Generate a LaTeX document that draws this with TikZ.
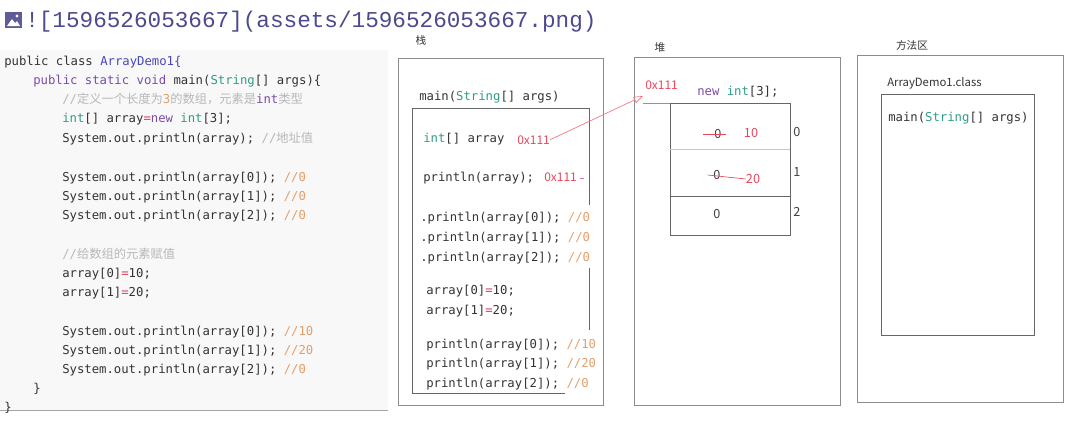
\documentclass[tikz,border=0pt]{standalone}
\usepackage{fontspec}
\setmonofont{DejaVu Sans Mono}
\newfontfamily\cjk{Noto Sans CJK SC}
\newfontfamily\titlefont{Liberation Mono}
\usetikzlibrary{arrows.meta}
\definecolor{ckwc}{HTML}{7B4BA8}
\definecolor{ctyc}{HTML}{2F9C88}
\definecolor{cclsc}{HTML}{4A48B8}
\definecolor{cidc}{HTML}{333333}
\definecolor{ccmc}{HTML}{B8B8B8}
\definecolor{cnumc}{HTML}{E3A06C}
\definecolor{copc}{HTML}{D6405A}
\definecolor{addrc}{HTML}{E8465C}
\definecolor{boxc}{HTML}{8C8C8C}
\definecolor{titlec}{HTML}{4C4A8E}
\definecolor{panelc}{HTML}{F8F8F8}
\newcommand{\ckw}[1]{\textcolor{ckwc}{#1}}
\newcommand{\cty}[1]{\textcolor{ctyc}{#1}}
\newcommand{\ccm}[1]{\textcolor{ccmc}{#1}}
\newcommand{\cnum}[1]{\textcolor{cnumc}{#1}}
\newcommand{\cop}[1]{\textcolor{copc}{#1}}

\begin{document}
\begin{tikzpicture}[x=0.75pt,y=-0.75pt,>=Stealth]
\tikzstyle{code}=[anchor=base west,inner sep=0pt,text=cidc,font=\ttfamily\fontsize{9.2}{11}\selectfont]
\tikzstyle{lbl}=[inner sep=0pt,text=black!80,font=\cjk\fontsize{8}{10}\selectfont]
\tikzstyle{cell}=[inner sep=0pt,text=black!75,font=\cjk\fontsize{9.5}{11}\selectfont]
\tikzstyle{addr}=[anchor=base west,inner sep=0pt,text=addrc,font=\cjk\fontsize{9}{11}\selectfont]
\tikzstyle{area}=[draw=boxc,line width=0.7pt]
\tikzstyle{inbox}=[draw=black!60,line width=0.6pt]
\useasboundingbox (0,0) rectangle (1072,421);

% title line
\fill[titlec!90] (5,12) rectangle (22,28);
\fill[white] (7,26) -- (12,19) -- (15,23) -- (17,21) -- (20,26) -- cycle;
\fill[white] (17,16) circle (1.6);
\node[anchor=base west,inner sep=0pt,text=titlec,font=\titlefont\fontsize{17}{20}\selectfont] (title) at (25,27) {![1596526053667](assets/1596526053667.png)};

% source code
\fill[panelc] (0,50) rectangle (388,410);
\draw[black!35] (0,410) -- (388,410);
\node[code] (l1) at (4,65) {public class \textcolor{cclsc}{ArrayDemo1\{}};
\node[code] (l2) at (33,84) {\ckw{public static void} main(\cty{String}[] args)\{};
\node[code] (l3) at (62,103) {\ccm{//{\cjk 定义一个长度为}}\cnum{3}\ccm{{\cjk 的数组，元素是}}\ckw{int}\ccm{{\cjk 类型}}};
\node[code] (l4) at (62,122) {\cty{int}[] array\cop{=}\ckw{new} \cty{int}[3];};
\node[code] (l5) at (62,142) {System.out.println(array); \ccm{//{\cjk 地址值}}};
\node[code] (l6) at (62,181) {System.out.println(array[0]); \cnum{//0}};
\node[code] (l7) at (62,200) {System.out.println(array[1]); \cnum{//0}};
\node[code] (l8) at (62,219) {System.out.println(array[2]); \cnum{//0}};
\node[code] (l9) at (62,258) {\ccm{//{\cjk 给数组的元素赋值}}};
\node[code] (l10) at (62,277) {array[0]\cop{=}10;};
\node[code] (l11) at (62,296) {array[1]\cop{=}20;};
\node[code] (l12) at (62,335) {System.out.println(array[0]); \cnum{//10}};
\node[code] (l13) at (62,354) {System.out.println(array[1]); \cnum{//20}};
\node[code] (l14) at (62,373) {System.out.println(array[2]); \cnum{//0}};
\node[code] (l15) at (33,392) {\}};
\node[code] (l16) at (4,411) {\}};

% stack
\node[lbl] (stk) at (421,40) {栈};
\draw[area] (398,58) rectangle (603,405);
\node[code] (smain) at (419,100) {main(\cty{String}[] args)};
\draw[inbox] (589,205) -- (589,108) -- (412,108) -- (412,393) -- (565,393);
\draw[inbox] (589,268) -- (589,330);
\node[code] (sarr) at (423,142) {\cty{int}[] array};
\node[addr] (sref) at (517,144) {0x111};
\node[code] (sprint) at (423,181) {println(array);};
\node[addr] (sref2) at (544,181) {0x111};
\node[code] (sp0) at (420,221) {.println(array[0]); \cnum{//0}};
\node[code] (sp1) at (420,241) {.println(array[1]); \cnum{//0}};
\node[code] (sp2) at (420,261) {.println(array[2]); \cnum{//0}};
\node[code] (sa0) at (426,294) {array[0]\cop{=}10;};
\node[code] (sa1) at (426,314) {array[1]\cop{=}20;};
\node[code] (sq0) at (426,348) {println(array[0]); \cnum{//10}};
\node[code] (sq1) at (426,367) {println(array[1]); \cnum{//20}};
\node[code] (sq2) at (426,387) {println(array[2]); \cnum{//0}};

% heap
\node[lbl] (hp) at (660,47) {堆};
\draw[area] (634,57) rectangle (840,405);
\node[addr] (href) at (645,89) {0x111};
\node[code] (hnew) at (697,95) {\ckw{new} \cty{int}[3];};
\draw[inbox] (670,103) rectangle (790,235);
\draw[black!22] (670,149) -- (790,149);
\draw[inbox] (670,196) -- (790,196);
\coordinate (hin) at (643,96);
\coordinate (hul) at (643,103);
\coordinate (hur) at (670,103);
\draw[addrc!80,line width=0.5pt] (hul) -- (hur);
\node[cell] (i0) at (797,132) {0};
\node[cell] (i1) at (797,172) {1};
\node[cell] (i2) at (797,212) {2};
\node[cell] (v0) at (718,134) {0};
\node[cell,text=addrc] (n0) at (751,133) {10};
\node[cell] (v1) at (717,175) {0};
\node[cell,text=addrc] (n1) at (753,179) {20};
\node[cell] (v2) at (717,214) {0};
\draw[addrc,line width=0.5pt] ([xshift=-11pt]v0.center) -- ([xshift=6pt]v0.center);
\draw[addrc,line width=0.5pt] ([xshift=-7pt]v1.center) -- (n1.west);

% reference arrows
\draw[->,addrc!75,line width=0.5pt,>={Triangle[open,length=7pt,width=5pt]}] (sref.east) -- (hin);
\draw[addrc!75,line width=0.5pt] (sref2.east) ++(2pt,-1.5pt) -- ++(3pt,0);

% method area
\node[lbl] (ma) at (912,45) {方法区};
\draw[area] (857,55) rectangle (1063,402);
\node[lbl,anchor=west,font=\cjk\fontsize{8.5}{10}\selectfont] (cls) at (887,83) {ArrayDemo1.class};
\draw[inbox] (881,94) rectangle (1034,335);
\node[code] (mmain) at (888,121) {main(\cty{String}[] args)};
\end{tikzpicture}
\end{document}
